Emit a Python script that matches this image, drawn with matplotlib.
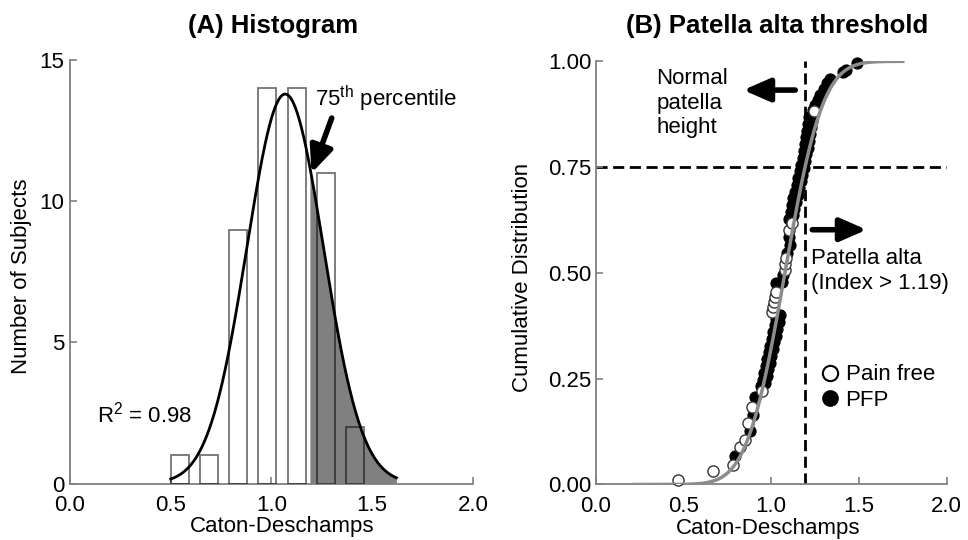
import math
import numpy as np
import matplotlib
matplotlib.use("Agg")
import matplotlib.pyplot as plt
from matplotlib.lines import Line2D

plt.rcParams['font.family'] = ['Liberation Sans', 'DejaVu Sans']
plt.rcParams['mathtext.fontset'] = 'custom'
plt.rcParams['mathtext.rm'] = 'Liberation Sans'
plt.rcParams['mathtext.it'] = 'Liberation Sans:italic'

# ---------------- data ----------------
bin_centers = [0.544, 0.690, 0.834, 0.980, 1.125, 1.270, 1.415]
counts = [1, 1, 9, 14, 14, 11, 2]
bar_width = 0.089

fit_mean = 1.068
fit_sd = 0.19
fit_peak = 13.8
fit_lo, fit_hi = 0.50, 1.62
threshold = 1.19          # 75th percentile

cdf_mean = 1.078
cdf_sd = 0.17
cdf_lo, cdf_hi = 0.22, 1.75

pain_free_x = [0.471, 0.670, 0.784, 0.822, 0.851, 0.868, 0.893, 0.946,
               1.004, 1.012, 1.018, 1.024, 1.030, 1.076, 1.080, 1.086,
               1.104, 1.116, 1.245]
pain_free_y = [0.011, 0.032, 0.045, 0.088, 0.105, 0.145, 0.184, 0.220,
               0.408, 0.420, 0.432, 0.444, 0.455, 0.508, 0.522, 0.536,
               0.602, 0.617, 0.883]

pfp_x = [0.794, 0.881, 0.897, 0.908,
         0.944, 0.966, 0.952, 0.974, 0.961, 0.983, 0.969, 0.991, 0.978, 1.000,
         0.986, 1.008, 0.995, 1.017, 1.003, 1.025, 1.012, 1.034, 1.020, 1.042,
         1.029, 1.051,
         1.026, 1.062, 1.070, 1.092, 1.106, 1.102,
         1.101, 1.123, 1.110, 1.132, 1.119, 1.141, 1.127, 1.150, 1.136, 1.159,
         1.145, 1.167, 1.154, 1.176, 1.163, 1.185, 1.171, 1.194, 1.180, 1.201,
         1.186, 1.207, 1.193, 1.214, 1.199, 1.220, 1.205, 1.227, 1.212, 1.233,
         1.218,
         1.240, 1.252, 1.265, 1.280, 1.298, 1.318, 1.335, 1.408, 1.425, 1.487]
pfp_y = [0.068, 0.127, 0.165, 0.207,
         0.232, 0.240, 0.248, 0.256, 0.264, 0.272, 0.280, 0.288, 0.296, 0.304,
         0.312, 0.320, 0.328, 0.336, 0.344, 0.352, 0.360, 0.368, 0.376, 0.384,
         0.392, 0.400,
         0.476, 0.478, 0.494, 0.548, 0.566, 0.585,
         0.628, 0.636, 0.644, 0.652, 0.660, 0.668, 0.676, 0.684, 0.692, 0.700,
         0.708, 0.716, 0.724, 0.732, 0.740, 0.748, 0.756, 0.764, 0.772, 0.780,
         0.788, 0.796, 0.804, 0.812, 0.820, 0.828, 0.836, 0.844, 0.852, 0.860,
         0.868,
         0.884, 0.896, 0.908, 0.920, 0.934, 0.948, 0.958, 0.975, 0.980, 0.995]

x_ticks = [0.0, 0.5, 1.0, 1.5, 2.0]
a_yticks = [0, 5, 10, 15]
b_yticks = [0.0, 0.25, 0.50, 0.75, 1.00]

# ---------------- figure ----------------
FS = 16
TFS = 18.5
SPINE = '#808080'
fig = plt.figure(figsize=(9.68, 5.4), dpi=100)
axA = fig.add_axes([0.0723, 0.1046, 0.4163, 0.7839])
axB = fig.add_axes([0.6154, 0.1028, 0.3626, 0.7837])

for ax in (axA, axB):
    for s in ('top', 'right'):
        ax.spines[s].set_visible(False)
    for s in ('left', 'bottom'):
        ax.spines[s].set_color(SPINE)
        ax.spines[s].set_linewidth(1.3)
    ax.tick_params(direction='in', length=5, width=1.2, color=SPINE,
                   labelsize=FS, labelcolor='black')
    ax.tick_params(axis='x', pad=8)
    ax.set_xlim(0, 2.0)
    ax.set_xticks(x_ticks)
    ax.set_xticklabels([f"{v:.1f}" for v in x_ticks])

# ---- Panel A ----
axA.set_ylim(0, 15)
axA.set_yticks(a_yticks)
axA.tick_params(axis='y', pad=4)
axA.bar(bin_centers, counts, width=bar_width, color='white',
        edgecolor='none', zorder=1)
xs = np.linspace(fit_lo, fit_hi, 400)
ys = fit_peak * np.exp(-(xs - fit_mean) ** 2 / (2 * fit_sd ** 2))
mask = xs >= threshold
axA.fill_between(xs[mask], 0, ys[mask], color='#808080', linewidth=0, zorder=2)
axA.bar(bin_centers, counts, width=bar_width, facecolor='none',
        edgecolor=(0, 0, 0, 0.55), linewidth=1.3, zorder=3)
axA.plot(xs, ys, color='black', lw=2.0, zorder=4)

axA.set_xlabel('Caton-Deschamps', fontsize=FS, va='center')
axA.xaxis.set_label_coords(0.527, -0.102)
axA.set_ylabel('Number of Subjects', fontsize=FS, va='center')
axA.yaxis.set_label_coords(-0.12, 0.49)
axA.set_title('(A) Histogram', fontsize=TFS, fontweight='bold',
              x=0.504, y=1.081, va='center', pad=0)

axA.text(1.216, 13.62, r'75$^{\mathrm{th}}$ percentile', fontsize=FS,
         ha='left', va='center')
axA.annotate('', xy=(1.199, 11.0), xytext=(1.299, 12.95),
             arrowprops=dict(arrowstyle='-|>,head_width=0.35,head_length=0.8',
                             lw=4, color='black', shrinkA=0, shrinkB=0,
                             mutation_scale=20), zorder=5)
axA.text(0.133, 2.44, r'R$^2$ = 0.98', fontsize=FS, ha='left', va='center')

# ---- Panel B ----
axB.set_ylim(0, 1.0)
axB.set_yticks(b_yticks)
axB.set_yticklabels([f"{v:.2f}" for v in b_yticks])
axB.tick_params(axis='y', pad=3)

axB.axhline(0.75, xmin=0, xmax=1, color='black', lw=2.0,
            linestyle=(0, (4, 2)), zorder=1)
axB.plot([threshold, threshold], [0, 1.0], color='black', lw=2.0,
         linestyle=(0, (4, 2)), zorder=1)

axB.scatter(pfp_x, pfp_y, s=64, facecolor='black', edgecolor='black',
            linewidth=0.8, zorder=3, clip_on=False)
axB.scatter(pain_free_x, pain_free_y, s=64, facecolor='white',
            edgecolor='#333333', linewidth=1.0, zorder=4, clip_on=False)

cx = np.linspace(cdf_lo, cdf_hi, 400)
cy = np.array([0.5 * (1 + math.erf((v - cdf_mean) / (cdf_sd * math.sqrt(2))))
               for v in cx])
axB.plot(cx, cy, color='#8c8c8c', lw=2.5, zorder=5)

axB.set_xlabel('Caton-Deschamps', fontsize=FS, va='center')
axB.xaxis.set_label_coords(0.492, -0.1035)
axB.set_ylabel('Cumulative Distribution', fontsize=FS, va='center')
axB.yaxis.set_label_coords(-0.208, 0.49)
axB.set_title('(B) Patella alta threshold', fontsize=TFS, fontweight='bold',
              x=0.516, y=1.084, va='center', pad=0)

axB.text(0.344, 0.901, 'Normal\npatella\nheight', fontsize=FS, ha='left',
         va='center', linespacing=1.22)
axB.annotate('', xy=(0.841, 0.932), xytext=(1.137, 0.932),
             arrowprops=dict(arrowstyle='-|>,head_width=0.35,head_length=0.8',
                             lw=4, color='black', shrinkA=0, shrinkB=0,
                             mutation_scale=20))
axB.annotate('', xy=(1.544, 0.602), xytext=(1.234, 0.602),
             arrowprops=dict(arrowstyle='-|>,head_width=0.35,head_length=0.8',
                             lw=4, color='black', shrinkA=0, shrinkB=0,
                             mutation_scale=20))
axB.text(1.227, 0.505, 'Patella alta\n(Index > 1.19)', fontsize=FS,
         ha='left', va='center', linespacing=1.25)

handles = [Line2D([], [], marker='o', linestyle='none', markersize=11,
                  markerfacecolor='white', markeredgecolor='black',
                  markeredgewidth=1.5),
           Line2D([], [], marker='o', linestyle='none', markersize=11,
                  markerfacecolor='black', markeredgecolor='black')]
axB.legend(handles, ['Pain free', 'PFP'], loc='upper left',
           bbox_to_anchor=(0.636, 0.284), frameon=False, fontsize=FS,
           handlelength=1.0, handletextpad=0.2, labelspacing=0.22,
           borderpad=0, borderaxespad=0)

fig.savefig('out.png', dpi=100)
